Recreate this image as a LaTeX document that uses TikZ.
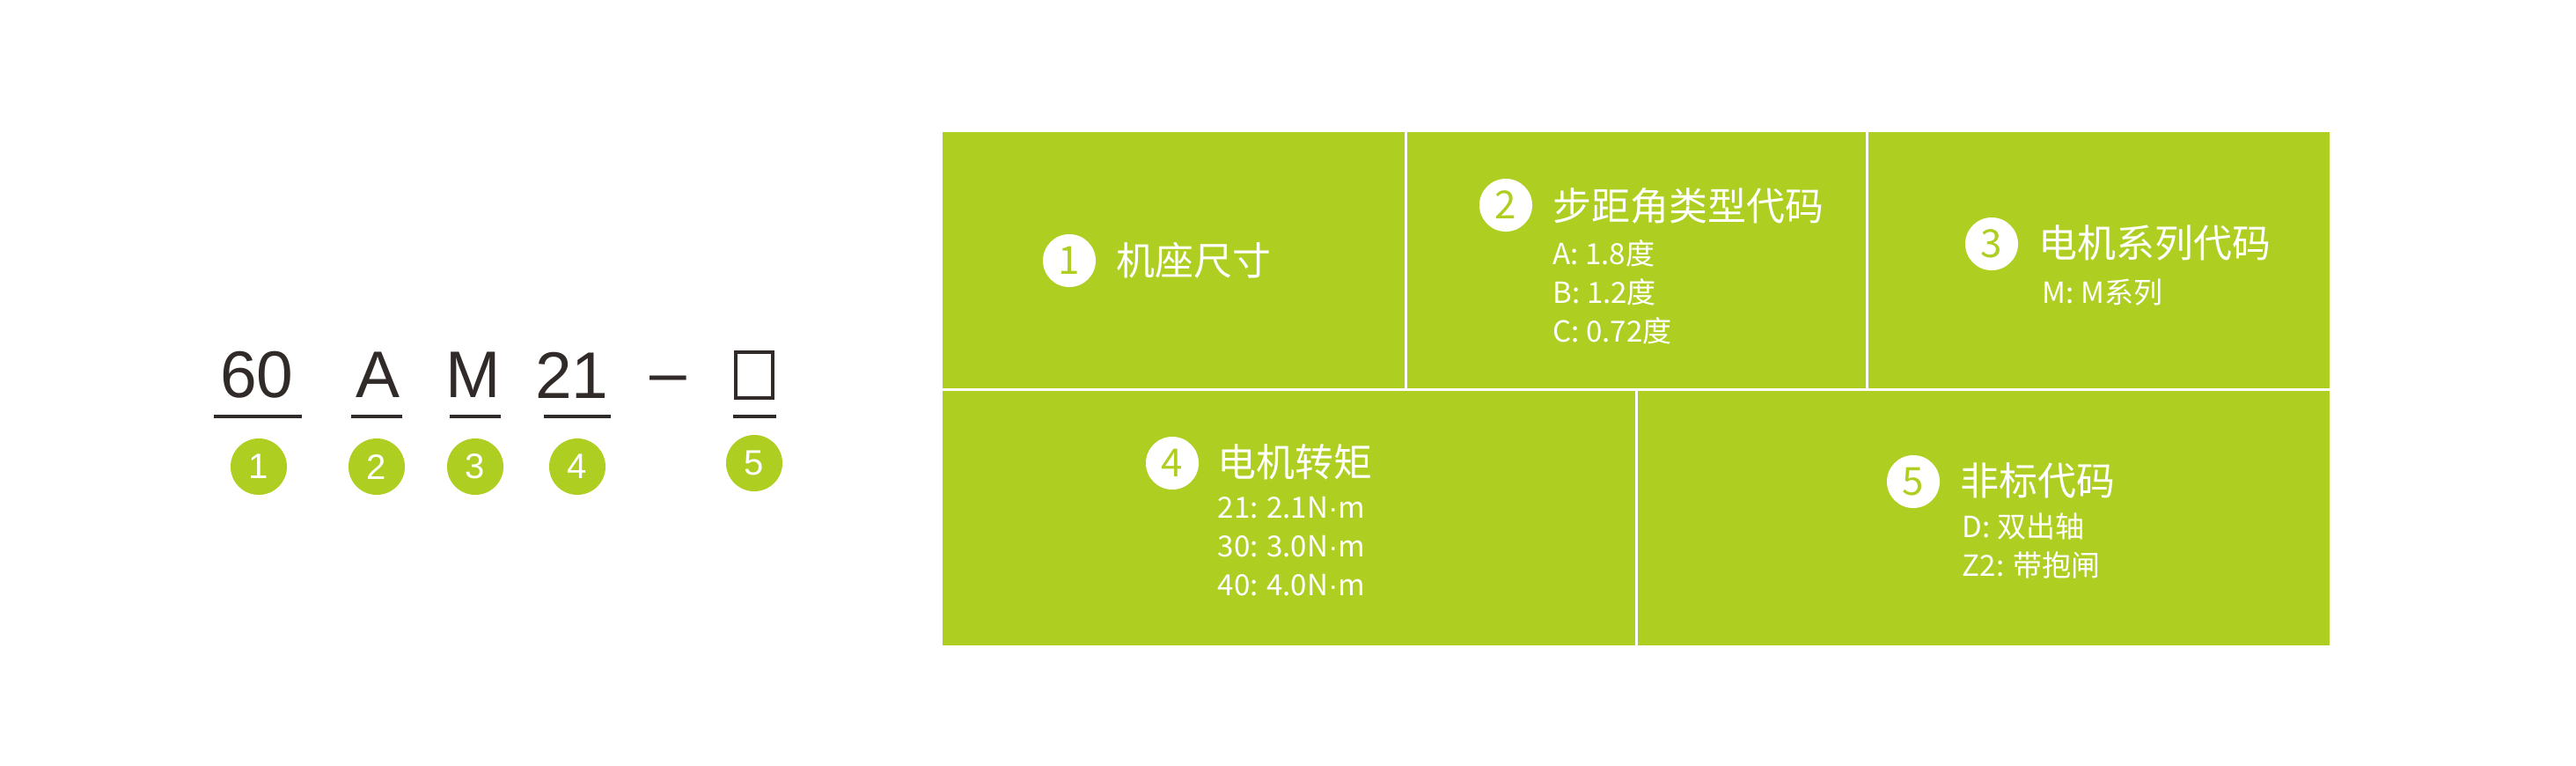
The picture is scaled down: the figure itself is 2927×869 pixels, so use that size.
\documentclass[tikz,border=0pt]{standalone}
\usepackage{fontspec}
\setmainfont{Liberation Sans}
\newfontfamily\cjk{Noto Sans CJK SC}
\usepackage{tikz}
\definecolor{lime}{RGB}{174,206,34}
\definecolor{ink}{RGB}{48,42,40}
\newcommand{\md}{{\rmfamily ·}}

\begin{document}
\begin{tikzpicture}[x=0.01cm, y=-0.01cm,
    code/.style={inner sep=0, text=ink, font=\fontsize{21.3}{24}\selectfont},
    uline/.style={line width=0.04cm, ink},
    numdot/.style={circle, fill=lime, minimum size=0.64cm, inner sep=0, text=white, font=\fontsize{11.4}{12}\selectfont},
    numdisc/.style={circle, fill=white, minimum size=0.6cm, inner sep=0, text=lime, font=\cjk\fontsize{12.5}{13}\selectfont},
    title/.style={anchor=west, inner sep=0, text=white, font=\cjk\fontsize{12.5}{13}\selectfont},
    sub/.style={anchor=west, inner sep=0, text=white, font=\cjk\fontsize{9.4}{10}\selectfont},
    divider/.style={white, line width=0.03cm}]
    \useasboundingbox (0,0) rectangle (2927,869);
    % Model code
    \node[code] (c1) at (292,426) {60};
    \node[code] (c2) at (429,426) {A};
    \node[code] (c3) at (538,426) {M};
    \node[code] (c4) at (650,426) {21};
    \node[code] (dash) at (759,438) {–};
    \node[draw=ink, line width=0.04cm, minimum width=0.42cm, minimum height=0.51cm, inner sep=0] (c5) at (857,426) {};
    % Underlines
    \draw[uline] (243,473) -- (343,473);
    \draw[uline] (399,473) -- (457,473);
    \draw[uline] (511,473) -- (569,473);
    \draw[uline] (618,473) -- (694,473);
    \draw[uline] (833,473) -- (882,473);
    % Numbers
    \node[numdot] (n1) at (294,530) {1};
    \node[numdot] (n2) at (428,530) {2};
    \node[numdot] (n3) at (540,530) {3};
    \node[numdot] (n4) at (656,530) {4};
    \node[numdot] (n5) at (857,526) {5};
    % Table
    \fill[lime] (1071,150) rectangle (2647,733);
    \draw[divider] (1597,150) -- (1597,442);
    \draw[divider] (2121,150) -- (2121,442);
    \draw[divider] (1071,442) -- (2647,442);
    \draw[divider] (1859,442) -- (1859,733);
    % Frame size
    \node[numdisc] (d1) at (1215,296) {1};
    \node[title] (t1) at (1268,296) {机座尺寸};
    % Step angle
    \node[numdisc] (d2) at (1711,233) {2};
    \node[title] (t2) at (1764,234) {步距角类型代码};
    \foreach \t [count=\i] in {A: 1.8度, B: 1.2度, C: 0.72度}
        \node[sub] (s2\i) at (1764,{288+(\i-1)*44}) {\t};
    % Series
    \node[numdisc] (d3) at (2263,277) {3};
    \node[title] (t3) at (2316,276) {电机系列代码};
    \node[sub] (s31) at (2320,332) {M: M系列};
    % Torque
    \node[numdisc] (d4) at (1332,526) {4};
    \node[title] (t4) at (1383,525) {电机转矩};
    \foreach \t [count=\i] in {21: 2.1N\md m, 30: 3.0N\md m, 40: 4.0N\md m}
        \node[sub] (s4\i) at (1383,{577+(\i-1)*44}) {\t};
    % Non-standard
    \node[numdisc] (d5) at (2174,547) {5};
    \node[title] (t5) at (2227,546) {非标代码};
    \node[sub] (s51) at (2229,598) {D: 双出轴};
    \node[sub] (s52) at (2229,642) {Z2: 带抱闸};
\end{tikzpicture}
\end{document}
